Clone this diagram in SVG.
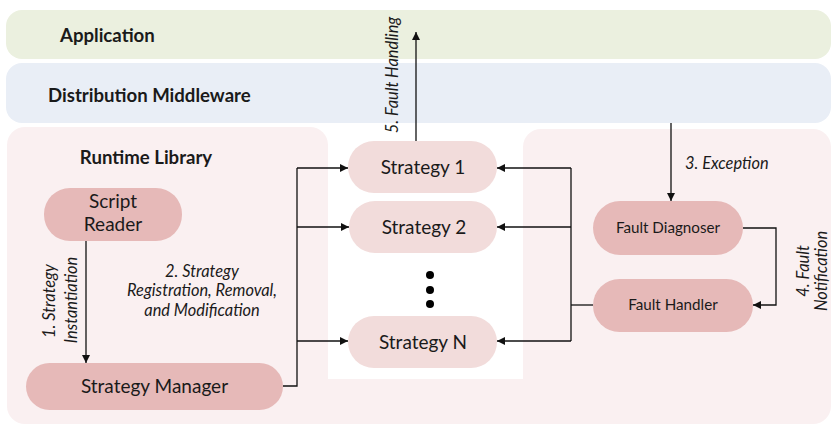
<svg xmlns="http://www.w3.org/2000/svg" width="833" height="426" viewBox="0 0 833 426">
  <defs>
    <marker id="arrow" viewBox="0 0 10 10" refX="10" refY="5" markerWidth="8" markerHeight="8" markerUnits="userSpaceOnUse" orient="auto">
      <path d="M0,0 L10,5 L0,10 z" fill="#111"/>
    </marker>
    <style>
      text { font-family: Lato, "Open Sans", "Liberation Sans", sans-serif; fill: #1a1a1a; }
      .layer-title { font-size: 18.6px; font-weight: bold; }
      .node-lg { font-size: 19px; text-anchor: middle; }
      .node-sm { font-size: 15.2px; text-anchor: middle; }
      .label { font-size: 16.4px; font-style: italic; }
      .mid { text-anchor: middle; }
      .dark { fill: #e6b9b8; }
      .light { fill: #f2dcdb; }
      .conn { fill: none; stroke: #111; stroke-width: 1.3; }
    </style>
  </defs>

  <rect width="833" height="426" fill="#ffffff"/>

  <!-- layer bands -->
  <g id="application">
    <rect x="6" y="10" width="825" height="49" rx="16" fill="#ebf0df"/>
    <text class="layer-title" x="60" y="41.5">Application</text>
  </g>
  <g id="middleware">
    <rect x="6" y="63" width="825" height="60" rx="16" fill="#e9eef6"/>
    <text class="layer-title" x="48" y="102">Distribution Middleware</text>
  </g>

  <!-- runtime panels -->
  <g id="runtime-panels" fill="#faf0f1">
    <rect x="7" y="127" width="321" height="297" rx="18"/>
    <rect x="523" y="129" width="308" height="295" rx="18"/>
    <rect x="310" y="379" width="230" height="45"/>
  </g>

  <g id="runtime-library">
    <text class="layer-title mid" x="146" y="164">Runtime Library</text>
  </g>

  <g id="script-reader">
    <rect class="dark" x="44" y="188" width="138" height="53" rx="26"/>
    <text class="node-lg" x="113" y="208">Script</text>
    <text class="node-lg" x="113" y="231">Reader</text>
  </g>

  <g id="strategy-manager">
    <rect class="dark" x="26" y="363" width="257" height="47" rx="23.5"/>
    <text class="node-lg" x="154.5" y="393">Strategy Manager</text>
  </g>

  <g id="strategy-1">
    <rect class="light" x="348" y="141" width="149" height="52" rx="26"/>
    <text class="node-lg" x="423" y="174">Strategy 1</text>
  </g>
  <g id="strategy-2">
    <rect class="light" x="349" y="201" width="148" height="52" rx="26"/>
    <text class="node-lg" x="424" y="234">Strategy 2</text>
  </g>
  <g id="ellipsis" fill="#000">
    <circle cx="430" cy="275" r="4"/>
    <circle cx="430" cy="290" r="4"/>
    <circle cx="430" cy="304" r="4"/>
  </g>
  <g id="strategy-n">
    <rect class="light" x="348" y="316" width="149" height="52" rx="26"/>
    <text class="node-lg" x="423" y="349">Strategy N</text>
  </g>

  <g id="fault-diagnoser">
    <rect class="dark" x="593" y="201" width="150" height="54" rx="27"/>
    <text class="node-sm" x="668" y="233">Fault Diagnoser</text>
  </g>
  <g id="fault-handler">
    <rect class="dark" x="593" y="279" width="160" height="53" rx="26.5"/>
    <text class="node-sm" x="673" y="310">Fault Handler</text>
  </g>

  <!-- connectors -->
  <g id="connectors">
    <path class="conn" d="M86,241 V363" marker-end="url(#arrow)"/>
    <path class="conn" d="M283,386 H297 V168"/>
    <path class="conn" d="M297,168 H348" marker-end="url(#arrow)"/>
    <path class="conn" d="M297,227 H349" marker-end="url(#arrow)"/>
    <path class="conn" d="M297,341 H348" marker-end="url(#arrow)"/>
    <path class="conn" d="M593,305 H571"/>
    <path class="conn" d="M571,168 V341"/>
    <path class="conn" d="M571,168 H497" marker-end="url(#arrow)"/>
    <path class="conn" d="M571,227 H497" marker-end="url(#arrow)"/>
    <path class="conn" d="M571,341 H497" marker-end="url(#arrow)"/>
    <path class="conn" d="M671,123 V201" marker-end="url(#arrow)"/>
    <path class="conn" d="M743,228 H776 V305 H753" marker-end="url(#arrow)"/>
    <path class="conn" d="M416,141 V32" marker-end="url(#arrow)"/>
  </g>

  <!-- connector labels -->
  <g id="connector-labels">
    <text class="label mid" transform="translate(55,301) rotate(-90)">1. Strategy</text>
    <text class="label mid" transform="translate(77,300) rotate(-90)">Instantiation</text>
    <text class="label mid" x="202" y="277">2. Strategy</text>
    <text class="label mid" x="202" y="296">Registration, Removal,</text>
    <text class="label mid" x="202" y="316">and Modification</text>
    <text class="label" x="685" y="169">3. Exception</text>
    <text class="label mid" transform="translate(809,271) rotate(-90)">4. Fault</text>
    <text class="label mid" transform="translate(827,271) rotate(-90)">Notification</text>
    <text class="label mid" transform="translate(398,75) rotate(-90)">5. Fault Handling</text>
  </g>
</svg>
